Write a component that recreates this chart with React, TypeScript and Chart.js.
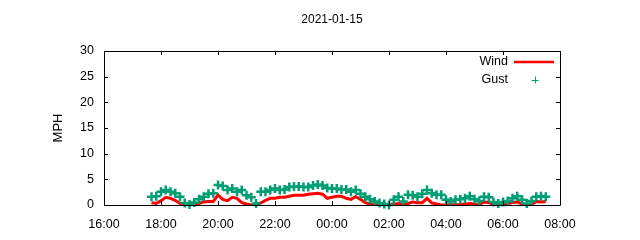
import React, { useEffect, useRef } from "react";
import { Chart, registerables } from "chart.js";

Chart.register(...registerables);

const TITLE = "2021-01-15";
const Y_LABEL = "MPH";
const SERIES_NAMES = ["Wind", "Gust"];
const X_TICK_LABELS = ["16:00", "18:00", "20:00", "22:00", "00:00", "02:00", "04:00", "06:00", "08:00"];
const Y_TICKS = [0, 5, 10, 15, 20, 25, 30];

const TIMES = [
  "17:40", "17:50", "18:00", "18:10", "18:20", "18:30", "18:40", "18:50", "19:00", "19:10",
  "19:20", "19:30", "19:40", "19:50", "20:00", "20:10", "20:20", "20:30", "20:40", "20:50",
  "21:00", "21:10", "21:20", "21:30", "21:40", "21:50", "22:00", "22:10", "22:20", "22:30",
  "22:40", "22:50", "23:00", "23:10", "23:20", "23:30", "23:40", "23:50", "00:00", "00:10",
  "00:20", "00:30", "00:40", "00:50", "01:00", "01:10", "01:20", "01:30", "01:40", "01:50",
  "02:00", "02:10", "02:20", "02:30", "02:40", "02:50", "03:00", "03:10", "03:20", "03:30",
  "03:40", "03:50", "04:00", "04:10", "04:20", "04:30", "04:40", "04:50", "05:00", "05:10",
  "05:20", "05:30", "05:40", "05:50", "06:00", "06:10", "06:20", "06:30", "06:40", "06:50",
  "07:00", "07:10", "07:20", "07:30",
];

const WIND = [
  0.45, 0.3, 0.85, 1.5, 1.3, 0.9, 0.3, 0.05, 0, 0.2,
  0.3, 0.6, 0.7, 0.7, 1.95, 1.1, 0.85, 1.5, 1.3, 0.45,
  0.2, 0, 0, 0.4, 0.9, 1.3, 1.3, 1.5, 1.5, 1.7,
  1.9, 1.9, 1.9, 2.1, 2.2, 2.3, 2.1, 1.3, 1.5, 1.7,
  1.7, 1.3, 1.1, 1.6, 1.1, 0.45, 0.2, 0, 0, 0,
  0.1, 0.2, 0.3, 0, 0.3, 0.6, 0.45, 0.45, 1.3, 0.4,
  0.2, 0, 0, 0.1, 0, 0.1, 0.2, 0.3, 0.2, 0.1,
  0.6, 0.5, 0.1, 0, 0.1, 0.2, 0.5, 0.6, 0.2, 0,
  0.1, 0.7, 0.6, 0.7,
];

const GUST = [
  1.6, 1.7, 2.6, 2.9, 2.6, 2.3, 1.6, 0.4, 0.1, 0.5,
  1.1, 1.6, 2.2, 2.3, 3.9, 3.7, 2.9, 3.2, 2.6, 2.9,
  1.9, 1.5, 0.3, 2.6, 2.6, 2.9, 3.2, 2.9, 3.0, 3.5,
  3.6, 3.6, 3.5, 3.5, 3.8, 4.0, 3.8, 3.3, 3.2, 3.2,
  3.0, 3.0, 2.6, 2.9, 2.2, 1.6, 1.1, 0.7, 0.4, 0.2,
  0, 1.0, 1.6, 0.7, 2.0, 1.9, 1.6, 2.2, 2.9, 2.3,
  2.0, 2.0, 1.0, 0.7, 1.0, 1.1, 1.3, 1.7, 1.1, 0.8,
  1.6, 1.5, 0.6, 0.3, 0.6, 0.8, 1.3, 1.7, 1.0, 0.3,
  0.8, 1.6, 1.7, 1.6,
];

const WIND_COLOR = "#ff0000";
const GUST_COLOR = "#009e73";
const FONT_FAMILY = '"Liberation Sans", Arial, sans-serif';

// hours since the 16:00 start of the x axis
function toHours(t: string): number {
  const [h, m] = t.split(":").map(Number);
  let v = h + m / 60 - 16;
  if (v < 0) v += 24;
  return v;
}

const framePlugin = {
  id: "gnuplotFrame",
  afterDraw(chart: any) {
    const { ctx, chartArea } = chart;
    ctx.save();
    ctx.font = `12px ${FONT_FAMILY}`;
    ctx.fillStyle = "#000";
    ctx.textAlign = "center";
    ctx.textBaseline = "middle";
    ctx.fillText(TITLE, (chartArea.left + chartArea.right) / 2, 20);
    ctx.restore();
  },
  afterDatasetsDraw(chart: any) {
    const { ctx, chartArea, scales } = chart;
    const { left, right, top, bottom } = chartArea;
    const xs = scales.x;
    const ys = scales.y;
    const tl = 4;
    ctx.save();
    ctx.strokeStyle = "#000";
    ctx.lineWidth = 1;
    ctx.beginPath();
    ctx.rect(Math.round(left) + 0.5, Math.round(top) + 0.5, Math.round(right - left), Math.round(bottom - top));
    xs.ticks.forEach((t: any) => {
      const px = Math.round(xs.getPixelForValue(t.value)) + 0.5;
      ctx.moveTo(px, bottom);
      ctx.lineTo(px, bottom - tl);
      ctx.moveTo(px, top);
      ctx.lineTo(px, top + tl);
    });
    ys.ticks.forEach((t: any) => {
      const py = Math.round(ys.getPixelForValue(t.value)) + 0.5;
      ctx.moveTo(left, py);
      ctx.lineTo(left + tl, py);
      ctx.moveTo(right, py);
      ctx.lineTo(right - tl, py);
    });
    ctx.stroke();

    // key (legend) in the upper right, gnuplot style
    ctx.font = `12.5px ${FONT_FAMILY}`;
    ctx.fillStyle = "#000";
    ctx.textAlign = "right";
    ctx.textBaseline = "middle";
    const keyTextX = right - 52;
    const row1 = top + 11;
    const row2 = top + 29;
    ctx.fillText(SERIES_NAMES[0], keyTextX, row1);
    ctx.fillText(SERIES_NAMES[1], keyTextX, row2);
    ctx.strokeStyle = WIND_COLOR;
    ctx.lineWidth = 2.5;
    ctx.beginPath();
    ctx.moveTo(right - 46, row1);
    ctx.lineTo(right - 6, row1);
    ctx.stroke();
    ctx.strokeStyle = GUST_COLOR;
    ctx.lineWidth = 1;
    const cx = right - 25;
    ctx.beginPath();
    ctx.moveTo(cx - 3.5, row2 + 0.5);
    ctx.lineTo(cx + 3.5, row2 + 0.5);
    ctx.moveTo(cx + 0.5, row2 - 3.5);
    ctx.lineTo(cx + 0.5, row2 + 3.5);
    ctx.stroke();
    ctx.restore();
  },
};

export default function App() {
  const ref = useRef<HTMLCanvasElement | null>(null);

  useEffect(() => {
    if (!ref.current) return;
    const xsVals = TIMES.map(toHours);
    const chart = new Chart(ref.current, {
      type: "line",
      data: {
        datasets: [
          {
            label: SERIES_NAMES[0],
            data: xsVals.map((x, i) => ({ x, y: WIND[i] })),
            borderColor: WIND_COLOR,
            borderWidth: 3,
            pointRadius: 0,
            tension: 0,
            order: 2,
          },
          {
            label: SERIES_NAMES[1],
            data: xsVals.map((x, i) => ({ x, y: GUST[i] })),
            showLine: false,
            borderColor: GUST_COLOR,
            backgroundColor: GUST_COLOR,
            pointStyle: "cross",
            pointRadius: 4.5,
            pointBorderWidth: 2.5,
            pointBorderColor: GUST_COLOR,
            clip: false as any,
            order: 1,
          },
        ],
      },
      options: {
        animation: false,
        responsive: false,
        devicePixelRatio: 1,
        events: [],
        layout: { padding: { left: 0, right: 80, top: 51, bottom: 0 } },
        plugins: {
          legend: { display: false },
          tooltip: { enabled: false },
          title: { display: false },
        },
        scales: {
          x: {
            type: "linear",
            min: 0,
            max: 16,
            afterBuildTicks: (s: any) => {
              s.ticks = X_TICK_LABELS.map((_, i) => ({ value: i * 2 }));
            },
            ticks: {
              autoSkip: false,
              maxRotation: 0,
              padding: 12,
              color: "#000",
              font: { family: FONT_FAMILY, size: 12.5 },
              callback: (v: any) => X_TICK_LABELS[Math.round(Number(v) / 2)] ?? "",
            },
            grid: { display: false, drawTicks: false },
            border: { display: false },
            afterFit: (s: any) => {
              s.height = 35;
            },
          },
          y: {
            type: "linear",
            min: 0,
            max: 30,
            afterBuildTicks: (s: any) => {
              s.ticks = Y_TICKS.map((v) => ({ value: v }));
            },
            ticks: {
              padding: 10,
              color: "#000",
              font: { family: FONT_FAMILY, size: 12.5 },
            },
            title: {
              display: true,
              text: Y_LABEL,
              color: "#000",
              font: { family: FONT_FAMILY, size: 13 },
              padding: { top: 51, bottom: 0 },
            },
            grid: { display: false, drawTicks: false },
            border: { display: false },
            afterFit: (s: any) => {
              s.width = 104;
            },
          },
        },
      },
      plugins: [framePlugin],
    });
    return () => chart.destroy();
  }, []);

  return (
    <div style={{ position: "fixed", left: 0, top: 0, width: 640, height: 240, background: "#fff" }}>
      <canvas ref={ref} width={640} height={240} />
    </div>
  );
}
